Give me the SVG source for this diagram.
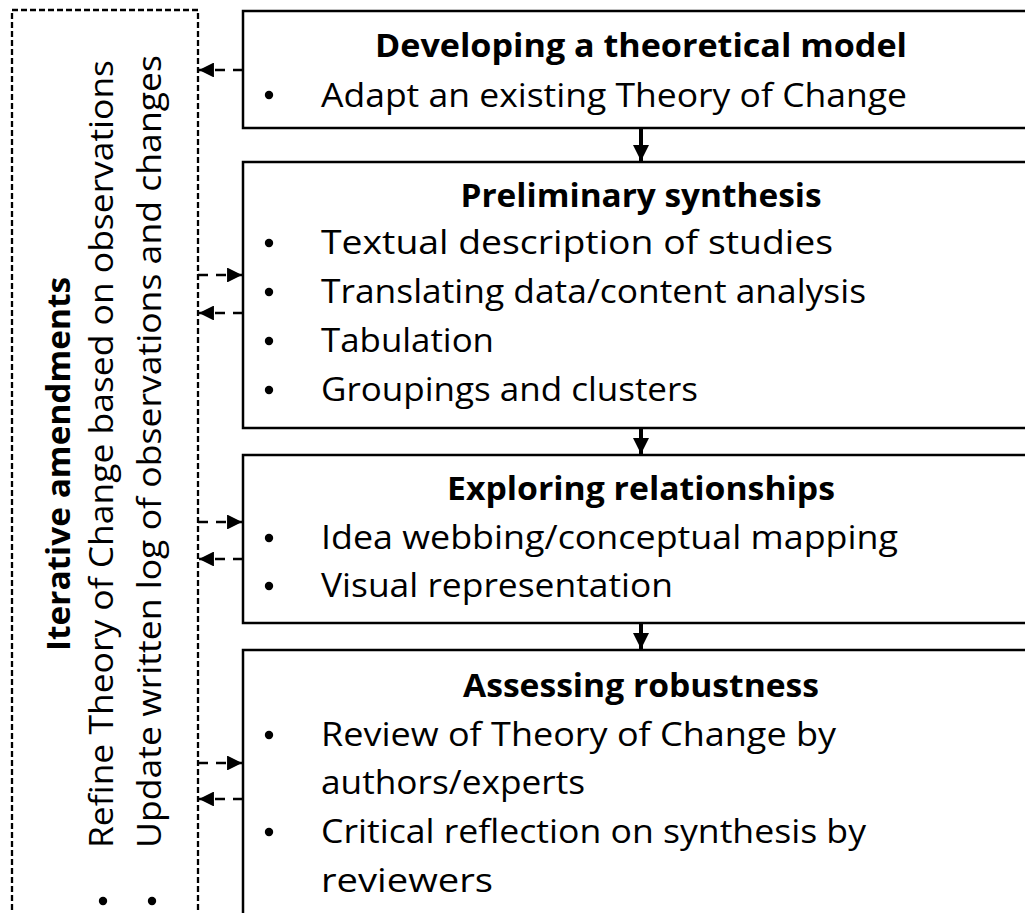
<svg xmlns="http://www.w3.org/2000/svg" width="1025" height="913" viewBox="0 0 1025 913">
<defs>
<style>
.box{fill:#fff;stroke:#000;stroke-width:2.5}
.dbox{fill:none;stroke:#000;stroke-width:2.3;stroke-dasharray:6 3}
.t{font-family:"Open Sans","Liberation Sans",sans-serif;font-size:32.5px;fill:#000}
.b{font-weight:bold}
.dl{stroke:#000;stroke-width:2.3;stroke-dasharray:10 8;fill:none}
.sl{stroke:#000;stroke-width:4;fill:none}
</style>
<marker id="ah" viewBox="0 0 10 10" refX="10" refY="5" markerWidth="6.5" markerHeight="6.5" markerUnits="strokeWidth" orient="auto">
<path d="M0,0 L10,5 L0,10 z" fill="#000"/>
</marker>
<marker id="ah2" viewBox="0 0 10 10" refX="10" refY="5" markerWidth="4" markerHeight="4.2" markerUnits="strokeWidth" orient="auto">
<path d="M0,0 L10,5 L0,10 z" fill="#000"/>
</marker>
</defs>
<rect width="1025" height="913" fill="#fff"/>
<g id="iterative">
<rect class="dbox" x="12" y="10" width="186" height="930"/>
<text class="t b" transform="translate(70,464) rotate(-90)" text-anchor="middle" textLength="374" lengthAdjust="spacingAndGlyphs">Iterative amendments</text>
<text class="t" transform="translate(113,848) rotate(-90)" textLength="788" lengthAdjust="spacingAndGlyphs">Refine Theory of Change based on observations</text>
<text class="t" transform="translate(161,848) rotate(-90)" textLength="793" lengthAdjust="spacingAndGlyphs">Update written log of observations and changes</text>
<circle cx="103" cy="901" r="4.2"/>
<circle cx="152" cy="901" r="4.2"/>
</g>
<g id="box1">
<rect class="box" x="243" y="11" width="800" height="117"/>
<text class="t b" x="641" y="57" text-anchor="middle" textLength="532" lengthAdjust="spacingAndGlyphs">Developing a theoretical model</text>
<circle cx="269" cy="95" r="4.2"/>
<text class="t" x="321" y="107" textLength="586" lengthAdjust="spacingAndGlyphs">Adapt an existing Theory of Change</text>
</g>
<g id="box2">
<rect class="box" x="243" y="162" width="800" height="266"/>
<text class="t b" x="641" y="207" text-anchor="middle" textLength="361" lengthAdjust="spacingAndGlyphs">Preliminary synthesis</text>
<circle cx="269" cy="243" r="4.2"/>
<text class="t" x="321" y="254" textLength="512" lengthAdjust="spacingAndGlyphs">Textual description of studies</text>
<circle cx="269" cy="292" r="4.2"/>
<text class="t" x="321" y="303" textLength="545" lengthAdjust="spacingAndGlyphs">Translating data/content analysis</text>
<circle cx="269" cy="341" r="4.2"/>
<text class="t" x="321" y="352" textLength="173" lengthAdjust="spacingAndGlyphs">Tabulation</text>
<circle cx="269" cy="390" r="4.2"/>
<text class="t" x="321" y="401" textLength="377" lengthAdjust="spacingAndGlyphs">Groupings and clusters</text>
</g>
<g id="box3">
<rect class="box" x="243" y="455" width="800" height="168"/>
<text class="t b" x="641" y="500" text-anchor="middle" textLength="388" lengthAdjust="spacingAndGlyphs">Exploring relationships</text>
<circle cx="269" cy="538" r="4.2"/>
<text class="t" x="321" y="549" textLength="577" lengthAdjust="spacingAndGlyphs">Idea webbing/conceptual mapping</text>
<circle cx="269" cy="586" r="4.2"/>
<text class="t" x="321" y="597" textLength="352" lengthAdjust="spacingAndGlyphs">Visual representation</text>
</g>
<g id="box4">
<rect class="box" x="243" y="650" width="800" height="300"/>
<text class="t b" x="641" y="697" text-anchor="middle" textLength="356" lengthAdjust="spacingAndGlyphs">Assessing robustness</text>
<circle cx="269" cy="735" r="4.2"/>
<text class="t" x="321" y="746" textLength="515" lengthAdjust="spacingAndGlyphs">Review of Theory of Change by</text>
<text class="t" x="321" y="794" textLength="264" lengthAdjust="spacingAndGlyphs">authors/experts</text>
<circle cx="269" cy="832" r="4.2"/>
<text class="t" x="321" y="843" textLength="545" lengthAdjust="spacingAndGlyphs">Critical reflection on synthesis by</text>
<text class="t" x="321" y="892" textLength="172" lengthAdjust="spacingAndGlyphs">reviewers</text>
</g>
<g id="connectors">
<line class="sl" x1="641" y1="129" x2="641" y2="161" marker-end="url(#ah2)"/>
<line class="sl" x1="641" y1="429" x2="641" y2="454" marker-end="url(#ah2)"/>
<line class="sl" x1="641" y1="624" x2="641" y2="649" marker-end="url(#ah2)"/>
<line class="dl" x1="243" y1="70" x2="199" y2="70" marker-end="url(#ah)"/>
<line class="dl" x1="198" y1="275" x2="242" y2="275" marker-end="url(#ah)"/>
<line class="dl" x1="243" y1="313" x2="199" y2="313" marker-end="url(#ah)"/>
<line class="dl" x1="198" y1="522" x2="242" y2="522" marker-end="url(#ah)"/>
<line class="dl" x1="243" y1="559" x2="199" y2="559" marker-end="url(#ah)"/>
<line class="dl" x1="198" y1="763" x2="242" y2="763" marker-end="url(#ah)"/>
<line class="dl" x1="243" y1="799" x2="199" y2="799" marker-end="url(#ah)"/>
</g>
</svg>
